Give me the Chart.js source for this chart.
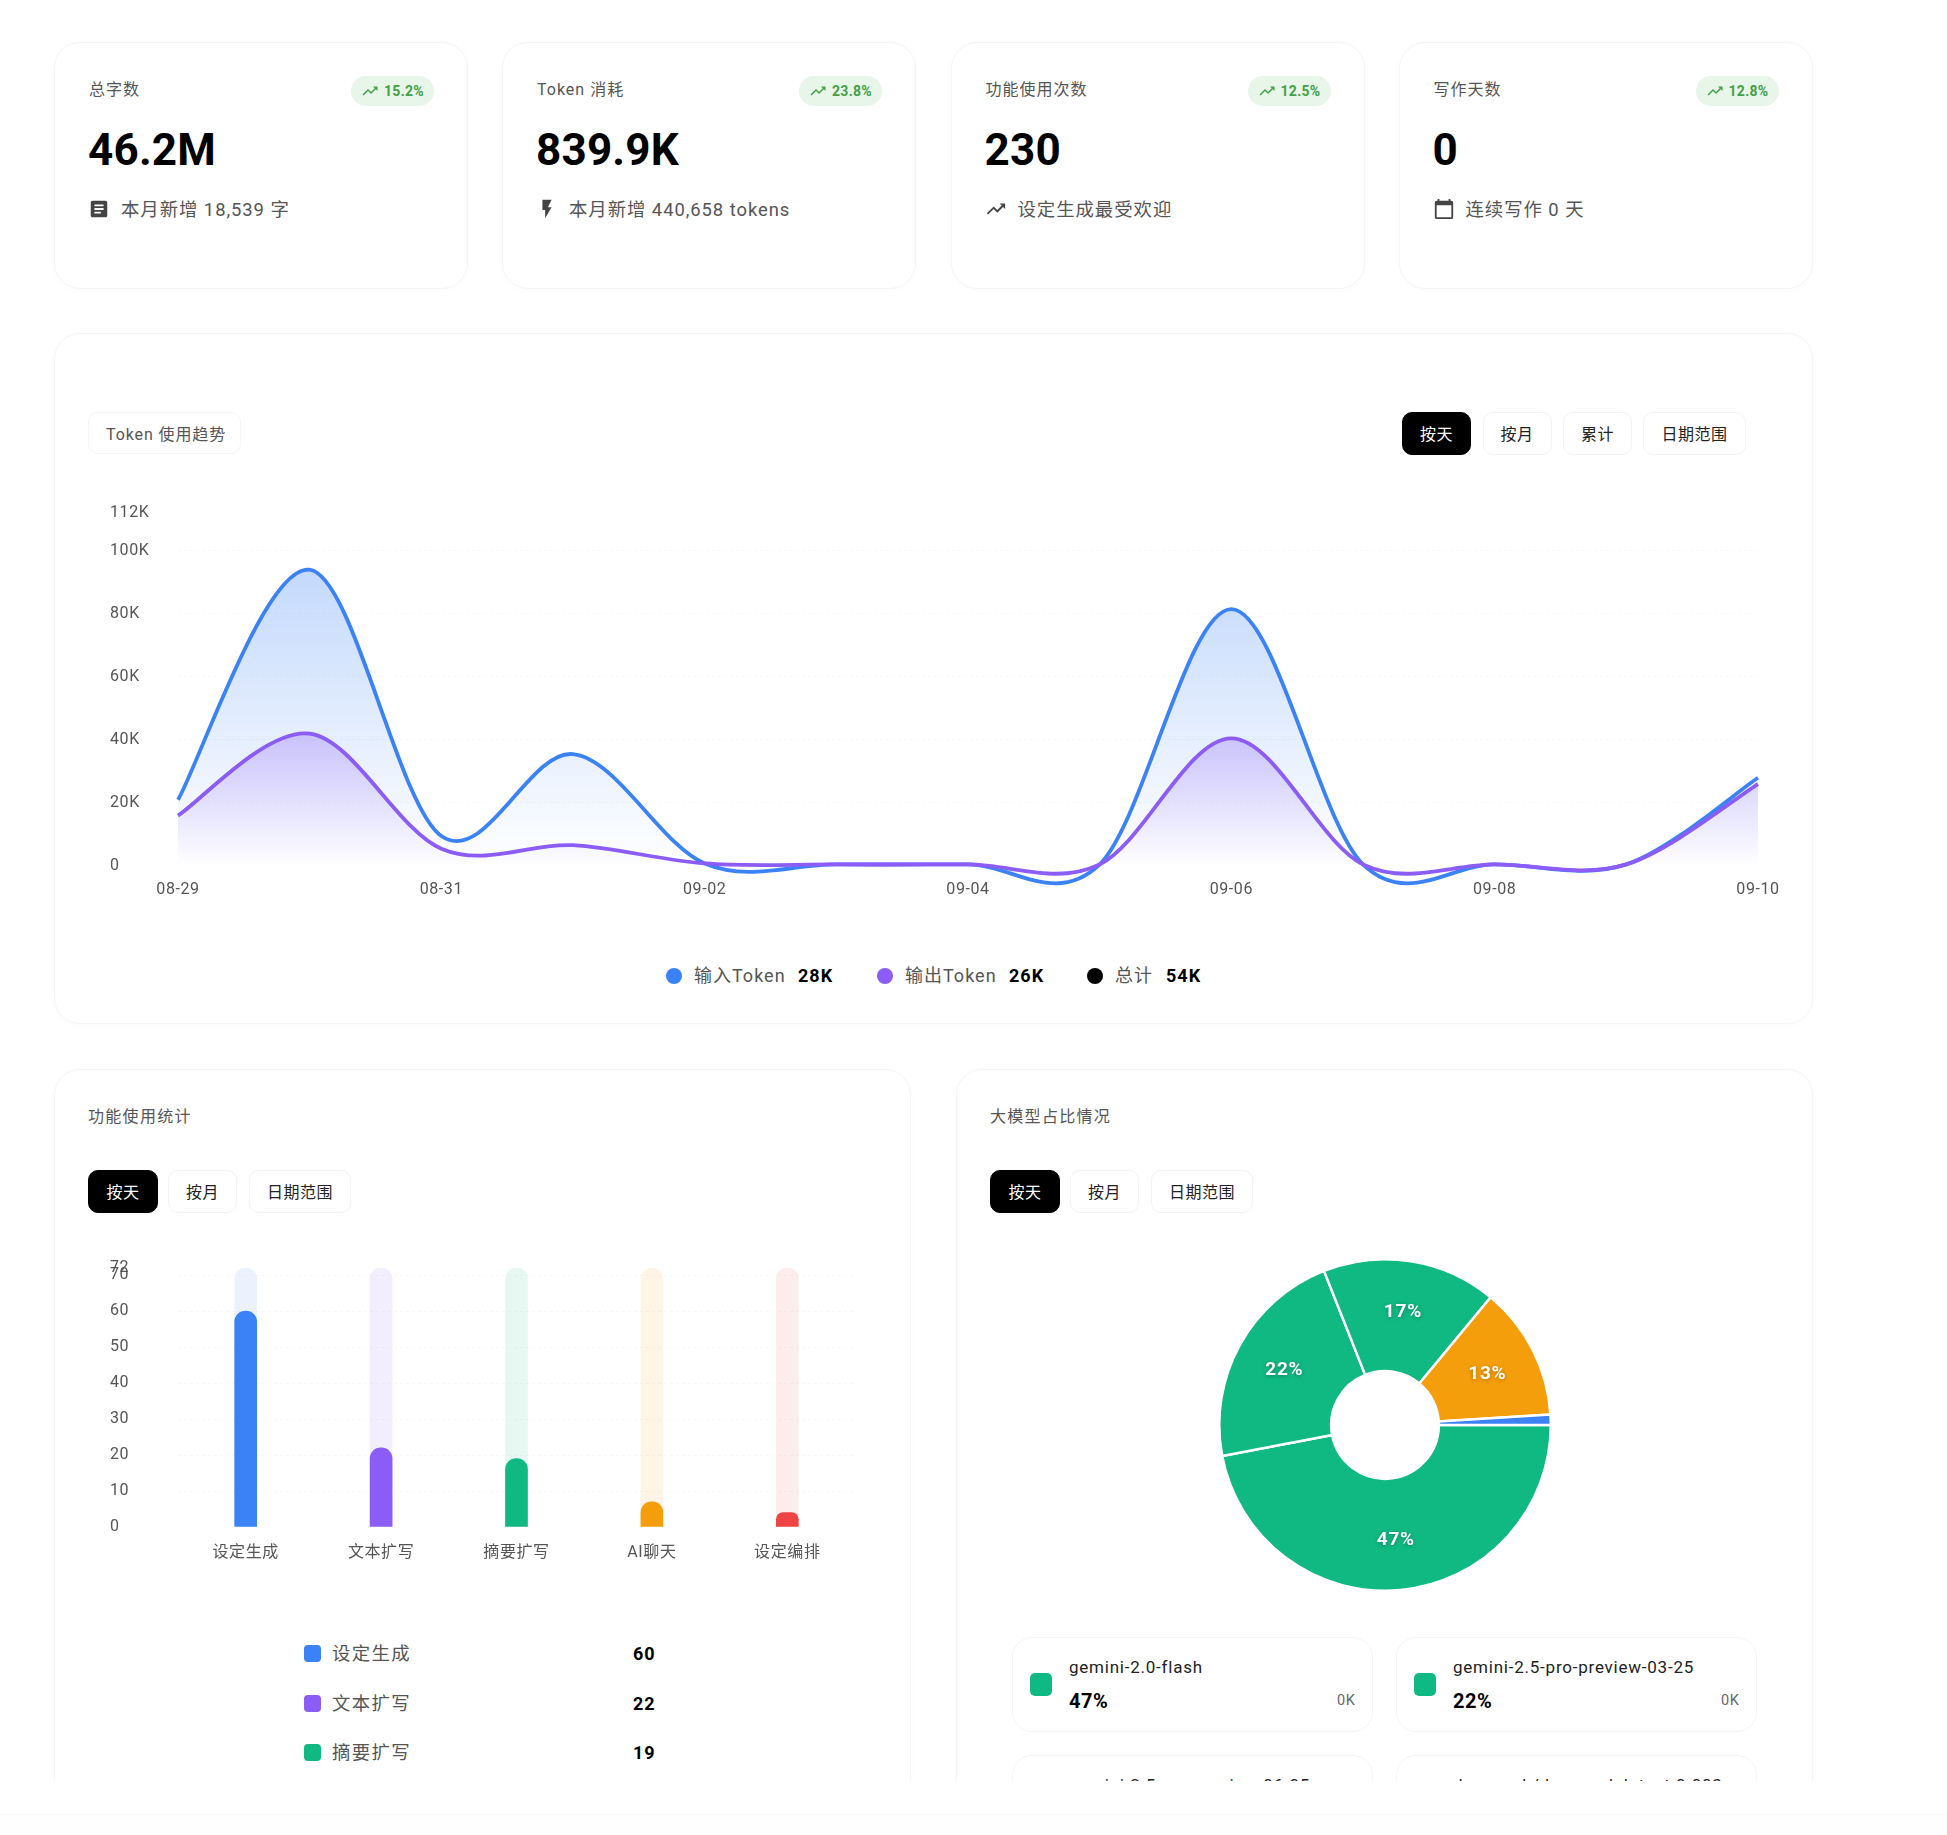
<!DOCTYPE html>
<html lang="zh-CN">
<head>
<meta charset="utf-8">
<title>数据统计</title>
<script src="https://cdn.jsdelivr.net/npm/chart.js@4/dist/chart.umd.min.js"></script>
<style>
  html, body { margin: 0; background: #fff; }
  body { width: 1947px; height: 1835px; position: relative; overflow: hidden; color: #555;
    font-family: Roboto, "Noto Sans CJK SC", sans-serif; letter-spacing: 1px; }
  .page { position: absolute; left: 0; top: 0; width: 1947px; height: 1781px; overflow: hidden; }
  .footer { position: absolute; left: 0; top: 1814px; width: 1947px; height: 21px; background: #fefefe; border-top: 1px solid #f8f8f8; }
  .abs, .card, canvas, .btn { position: absolute; }
  .abs { white-space: nowrap; line-height: 24px; }
  .card { box-sizing: border-box; background: #fff; border: 1px solid #f5f5f5; border-radius: 26px; box-shadow: 0 1px 6px rgba(0,0,0,.02); }
  .btn { box-sizing: border-box; height: 43px; border: 1.5px solid #f3f3f3; border-radius: 10px; background: #fff; color: #222;
    font-size: 16px; letter-spacing: .5px; line-height: 43px; text-align: center; }
  .btn.on { background: #000; border-color: #000; color: #fff; }
  .badge { position: absolute; width: 83px; height: 30px; border-radius: 15px; background: #e8f5e9; color: #43a047;
    font-size: 14px; font-weight: 700; letter-spacing: .3px; line-height: 31px; }
  .badge svg { position: absolute; left: 10px; top: 6px; width: 18px; height: 18px; fill: #43a047; }
  .badge span { position: absolute; left: 33px; }
  .icon { position: absolute; width: 22px; height: 22px; fill: #444; }
  .dot { position: absolute; width: 16px; height: 16px; border-radius: 50%; }
  .swatch { position: absolute; border-radius: 5px; }
  b { color: #000; font-weight: 700; }
</style>
</head>
<body>
<div class="page" id="page"></div>
<div class="footer"></div>
<script>
// stat cards
const statLabels = ['总字数', 'Token 消耗', '功能使用次数', '写作天数'];
const statValues = ['46.2M', '839.9K', '230', '0'];
const statChanges = ['15.2%', '23.8%', '12.5%', '12.8%'];
const statNotes = ['本月新增 18,539 字', '本月新增 440,658 tokens', '设定生成最受欢迎', '连续写作 0 天'];

// token trend
const trendDates = ['08-29', '08-30', '08-31', '09-01', '09-02', '09-03', '09-04', '09-05', '09-06', '09-07', '09-08', '09-09', '09-10'];
const inputTokens = [21000, 94000, 9500, 35500, 800, 500, 500, 500, 81500, 500, 500, 500, 28000];
const outputTokens = [16000, 42000, 5500, 6600, 800, 500, 500, 500, 40500, 500, 500, 500, 26000];
const trendTicks = [0, 20000, 40000, 60000, 80000, 100000, 112000];

// feature usage
const featureNames = ['设定生成', '文本扩写', '摘要扩写', 'AI聊天', '设定编排'];
const featureCounts = [60, 22, 19, 7, 4];
const featureTrack = [72, 72, 72, 72, 72];
const featureTicks = [0, 10, 20, 30, 40, 50, 60, 70, 72];
const featureColors = ['#3b82f6', '#8b5cf6', '#10b981', '#f59e0b', '#ef4444'];
const featureTrackColors = ['rgba(59,130,246,.1)', 'rgba(139,92,246,.1)', 'rgba(16,185,129,.1)', 'rgba(245,158,11,.1)', 'rgba(239,68,68,.1)'];

// model share
const modelNames = ['gemini-2.0-flash', 'gemini-2.5-pro-preview-03-25', 'gemini-2.5-pro-preview-06-05', 'deepseek/deepseek-latest-0.003', '其他'];
const modelShares = [47, 22, 17, 13, 1];
const modelTokens = ['0K', '0K', '0K', '0K', '0K'];
const modelColors = ['#10b981', '#10b981', '#10b981', '#f59e0b', '#3b82f6'];

const ICONS = {
  trend: 'M16 6l2.29 2.29-4.88 4.88-4-4L2 16.59 3.41 18l6-6 4 4 6.3-6.29L22 12V6z',
  article: 'M19 3H5c-1.1 0-2 .9-2 2v14c0 1.1.9 2 2 2h14c1.1 0 2-.9 2-2V5c0-1.1-.9-2-2-2zm-5 14H7v-2h7v2zm3-4H7v-2h10v2zm0-4H7V7h10v2z',
  bolt: 'M7 2v11h3v9l7-12h-4l4-8z',
  calendar: 'M20 3h-1V1h-2v2H7V1H5v2H4c-1.1 0-2 .9-2 2v16c0 1.1.9 2 2 2h16c1.1 0 2-.9 2-2V5c0-1.1-.9-2-2-2zm0 18H4V8h16v13z'
};
const statIcons = ['article', 'bolt', 'trend', 'calendar'];
const svg = (name, attrs) => `<svg viewBox="0 0 24 24" ${attrs || ''}><path d="${ICONS[name]}"/></svg>`;

const page = document.getElementById('page');
const add = (html) => page.insertAdjacentHTML('beforeend', html);
const box = (x, y, w, h) => `left:${x}px;top:${y}px;width:${w}px;height:${h}px`;
const text = (x, cy, str, style) => add(`<div class="abs" style="left:${x}px;top:${cy - 12}px;${style || ''}">${str}</div>`);
const buttons = (list, top) => list.forEach(([x, w, str], i) => add(`<div class="btn${i ? '' : ' on'}" style="left:${x}px;top:${top}px;width:${w}px">${str}</div>`));

// top row
[54, 502, 950.5, 1398.5].forEach((x, i) => {
  add(`<div class="card" style="${box(x, 42, 414, 247)}"></div>`);
  text(x + 35, 90, statLabels[i], 'font-size:16px');
  add(`<div class="badge" style="left:${x + 297}px;top:76px">${svg('trend')}<span>${statChanges[i]}</span></div>`);
  text(x + 34, 150, `<b>${statValues[i]}</b>`, 'font-size:44px;letter-spacing:.2px');
  add(svg(statIcons[i], `class="icon" style="left:${x + 34}px;top:198px"`));
  text(x + 67, 210, statNotes[i], 'font-size:18.4px;letter-spacing:.95px');
});

// trend card
add(`<div class="card" style="${box(54, 333, 1759, 691)}"></div>`);
add(`<div class="card" style="${box(88, 412, 153, 42)};border-radius:10px;box-shadow:none"></div>`);
text(106, 434.5, 'Token 使用趋势', 'font-size:16px;letter-spacing:.9px');
buttons([[1402, 69, '按天'], [1482.5, 69, '按月'], [1563, 69, '累计'], [1643, 103, '日期范围']], 412);
add('<canvas id="trendChart" style="left:110px;top:501px" width="1681" height="405"></canvas>');

const fmtK = (v) => Math.round(v / 1000) + 'K';
const lastInput = inputTokens[inputTokens.length - 1];
const lastOutput = outputTokens[outputTokens.length - 1];
[[666, 694, '输入Token', 798, fmtK(lastInput), '#3b82f6'],
 [877, 905, '输出Token', 1009, fmtK(lastOutput), '#8b5cf6'],
 [1087, 1115, '总计', 1166, fmtK(lastInput + lastOutput), '#000']].forEach(([dotX, labelX, label, valueX, value, color]) => {
  add(`<div class="dot" style="left:${dotX}px;top:968px;background:${color}"></div>`);
  text(labelX, 976, label, 'font-size:18px');
  text(valueX, 976, `<b>${value}</b>`, 'font-size:18px');
});

// feature card
add(`<div class="card" style="${box(54, 1069, 857, 800)}"></div>`);
text(88, 1117, '功能使用统计', 'font-size:16px;letter-spacing:1.3px');
buttons([[88, 70, '按天'], [168, 69, '按月'], [249, 102, '日期范围']], 1170);
add('<canvas id="featureChart" style="left:110px;top:1256px" width="745" height="311"></canvas>');
featureNames.slice(0, 3).forEach((name, i) => {
  const y = 1654 + i * 49.5;
  add(`<div class="swatch" style="${box(304, y - 9, 17, 17)};background:${featureColors[i]};border-radius:4px"></div>`);
  text(332, y, name, 'font-size:18.4px;letter-spacing:1.4px');
  text(633, y, `<b>${featureCounts[i]}</b>`, 'font-size:18px');
});

// model card
add(`<div class="card" style="${box(956, 1069, 857, 800)}"></div>`);
text(990, 1117, '大模型占比情况', 'font-size:16px;letter-spacing:1.3px');
buttons([[990, 70, '按天'], [1070, 69, '按月'], [1151, 102, '日期范围']], 1170);
add('<canvas id="modelChart" style="left:1218px;top:1258px" width="334" height="334"></canvas>');
modelNames.slice(0, 4).forEach((name, i) => {
  const x = i % 2 ? 1396 : 1012;
  const y = i < 2 ? 1637 : 1755;
  add(`<div class="card" style="${box(x, y, 361, 95)};border-radius:20px;box-shadow:none"></div>`);
  add(`<div class="swatch" style="${box(x + 18, y + 36, 22, 23)};background:${modelColors[i]}"></div>`);
  text(x + 57, y + 30, name, 'font-size:17px;letter-spacing:.77px;color:#222');
  text(x + 57, y + 64, `<b>${modelShares[i]}%</b>`, 'font-size:20px;letter-spacing:.5px');
  text(x + 325, y + 64, modelTokens[i], 'font-size:14.5px;letter-spacing:.5px;color:#666');
});

// shared axis styling
const tickFont = { family: 'Roboto, "Noto Sans CJK SC", sans-serif', size: 16 };
const spaced = { id: 'spaced', beforeDraw: (chart) => { chart.ctx.letterSpacing = '0.6px'; } };
const innerGrid = (lo, hi) => ({
  drawTicks: false,
  color: (c) => (c.tick && (c.tick.value === lo || c.tick.value === hi) ? 'transparent' : '#f8f8f8')
});

// gradient runs from a series' own peak down to the zero line
const peakFill = (series, rgb) => (c) => {
  const { chart } = c;
  if (!chart.chartArea) return 'transparent';
  const y = chart.scales.y;
  const g = chart.ctx.createLinearGradient(0, y.getPixelForValue(Math.max(...series)), 0, y.getPixelForValue(0));
  g.addColorStop(0, `rgba(${rgb},.3)`);
  g.addColorStop(1, `rgba(${rgb},0)`);
  return g;
};

// swap chart.js's distance-weighted spline for a plain catmull-rom one:
// tighter peaks and a deeper swing below zero on either side of them
const evenSpline = {
  id: 'evenSpline',
  afterDatasetsUpdate(chart) {
    chart.getSortedVisibleDatasetMetas().forEach((meta) => {
      meta.dataset.updateControlPoints(chart.chartArea, 'x');
      const pts = meta.data;
      pts.forEach((p, i) => {
        const prev = pts[i - 1] || p;
        const next = pts[i + 1] || p;
        p.cp1x = p.x - (next.x - prev.x) / 6;
        p.cp1y = p.y - (next.y - prev.y) / 6;
        p.cp2x = p.x + (next.x - prev.x) / 6;
        p.cp2y = p.y + (next.y - prev.y) / 6;
      });
    });
  }
};

new Chart(document.getElementById('trendChart'), {
  type: 'line',
  data: {
    labels: trendDates,
    datasets: [
      { label: '输入Token', data: inputTokens, borderColor: '#3b82f6', backgroundColor: peakFill(inputTokens, '59,130,246'), order: 2 },
      { label: '输出Token', data: outputTokens, borderColor: '#8b5cf6', backgroundColor: peakFill(outputTokens, '139,92,246'), order: 1 }
    ].map((d) => ({ ...d, fill: 'origin', tension: 0.4, capBezierPoints: false, borderWidth: 3.8, pointRadius: 0, clip: false }))
  },
  options: {
    responsive: false,
    animation: false,
    layout: { padding: { top: 12, right: 33 } },
    plugins: { legend: { display: false }, tooltip: { enabled: false } },
    scales: {
      x: {
        grid: { display: false },
        border: { display: false },
        afterFit: (s) => { s.height = 40; },
        ticks: {
          autoSkip: false, maxRotation: 0, padding: 6, color: '#555', font: tickFont,
          callback: (v, i) => (i % 2 ? '' : trendDates[i])
        }
      },
      y: {
        min: 0,
        max: 112000,
        afterBuildTicks: (s) => { s.ticks = trendTicks.map((value) => ({ value })); },
        afterFit: (s) => { s.width = 68; },
        grid: innerGrid(0, 112000),
        border: { display: false, dash: [3, 3] },
        ticks: { autoSkip: false, crossAlign: 'far', padding: 0, color: '#555', font: tickFont, callback: (v) => (v ? v / 1000 + 'K' : '0') }
      }
    }
  },
  plugins: [spaced, evenSpline]
});

new Chart(document.getElementById('featureChart'), {
  type: 'bar',
  data: {
    labels: featureNames,
    datasets: [
      { data: featureCounts, backgroundColor: featureColors, order: 1 },
      { data: featureTrack, backgroundColor: featureTrackColors, order: 2 }
    ].map((d) => ({ ...d, barThickness: 22, grouped: false, borderSkipped: false, borderRadius: { topLeft: 11, topRight: 11 } }))
  },
  options: {
    responsive: false,
    animation: false,
    layout: { padding: { top: 12 } },
    plugins: { legend: { display: false }, tooltip: { enabled: false } },
    scales: {
      x: {
        grid: { display: false },
        border: { display: false },
        afterFit: (s) => { s.height = 40; },
        ticks: { autoSkip: false, maxRotation: 0, padding: 8, color: '#555', font: tickFont }
      },
      y: {
        min: 0,
        max: 72,
        afterBuildTicks: (s) => { s.ticks = featureTicks.map((value) => ({ value })); },
        afterFit: (s) => { s.width = 68; },
        grid: innerGrid(0, 72),
        border: { display: false, dash: [3, 3] },
        ticks: { autoSkip: false, crossAlign: 'far', padding: 0, color: '#555', font: tickFont }
      }
    }
  },
  plugins: [spaced]
});

// percent labels sit a little outside the middle of the ring
const sliceLabels = {
  id: 'sliceLabels',
  afterDatasetsDraw(chart) {
    const { ctx } = chart;
    ctx.save();
    ctx.font = '700 19px Roboto, sans-serif';
    ctx.letterSpacing = '0.8px';
    ctx.fillStyle = '#fff';
    ctx.textAlign = 'center';
    ctx.textBaseline = 'middle';
    ctx.shadowColor = 'rgba(0,0,0,.3)';
    ctx.shadowBlur = 4;
    ctx.shadowOffsetY = 1;
    chart.getDatasetMeta(0).data.forEach((arc, i) => {
      if (modelShares[i] < 5) return;
      const { x, y, startAngle, endAngle, outerRadius } = arc.getProps(['x', 'y', 'startAngle', 'endAngle', 'outerRadius']);
      const mid = (startAngle + endAngle) / 2;
      ctx.fillText(modelShares[i] + '%', x + Math.cos(mid) * outerRadius * 0.693, y + 1 + Math.sin(mid) * outerRadius * 0.693);
    });
    ctx.restore();
  }
};

new Chart(document.getElementById('modelChart'), {
  type: 'doughnut',
  data: {
    labels: modelNames,
    datasets: [{ data: modelShares, backgroundColor: modelColors, borderColor: '#fff', borderWidth: 2.5 }]
  },
  options: {
    responsive: false,
    animation: false,
    rotation: 90,
    cutout: '32.5%',
    plugins: { legend: { display: false }, tooltip: { enabled: false } }
  },
  plugins: [sliceLabels]
});
</script>
</body>
</html>
